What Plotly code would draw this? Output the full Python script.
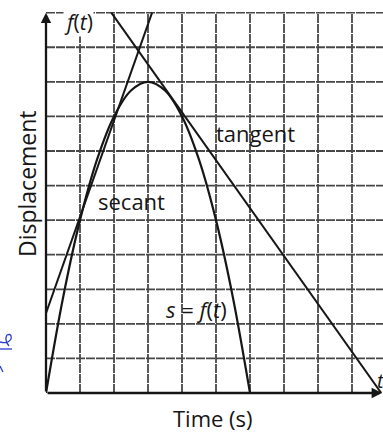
import plotly.graph_objects as go

# Displacement curve s = f(t), sampled along the parabola
t_curve = [0, 0.5, 1, 1.5, 2, 2.5, 3, 3.5, 4, 4.5, 5, 5.5, 6]
s_curve = [0, 2.75, 5, 6.75, 8, 8.75, 9, 8.75, 8, 6.75, 5, 2.75, 0]

# Secant line (end points)
t_secant = [0, 3.12]
s_secant = [2.31, 11]

# Tangent line (end points)
t_tangent = [1.92, 9.86]
s_tangent = [11, 0]

# Grid positions (one square per unit)
x_grid = [1, 2, 3, 4, 5, 6, 7, 8, 9]
y_grid = [1, 2, 3, 4, 5, 6, 7, 8, 9, 10, 11]

W, H = 383, 432
ML, MR, MT, MB = 46, 0, 12, 39
X_MAX = (W - ML - MR) / 34.0
Y_MAX = 11.0


def px(x):
    return (x - ML) / (W - ML - MR)


def py(y):
    return (H - MB - y) / (H - MB - MT)


INK = "#161616"
FONT = "Open Sans"

fig = go.Figure()
line_style = dict(color=INK, width=2)
fig.add_trace(go.Scatter(x=t_curve, y=s_curve, mode="lines",
                         line=dict(color=INK, width=2.2, shape="spline", smoothing=1.0),
                         hoverinfo="skip"))
fig.add_trace(go.Scatter(x=t_secant, y=s_secant, mode="lines", line=line_style,
                         hoverinfo="skip"))
fig.add_trace(go.Scatter(x=t_tangent, y=s_tangent, mode="lines", line=line_style,
                         hoverinfo="skip"))

grid_kw = dict(color="#474747", width=1.8, dash="9px,1px")
shapes = []
for gx in x_grid:
    shapes.append(dict(type="line", xref="x", yref="y", x0=gx, x1=gx, y0=0, y1=Y_MAX,
                       line=grid_kw, layer="below"))
for gy in y_grid:
    shapes.append(dict(type="line", xref="x", yref="y", x0=0, x1=X_MAX, y0=gy, y1=gy,
                       line=grid_kw, layer="below"))

# handwritten blue pen marks in the left margin
pen = dict(color="#2b3fd0", width=1.3)
shapes.append(dict(type="path", xref="paper", yref="paper",
                   path=(f"M {px(0)} {py(342)} Q {px(8)} {py(344)} {px(11)} {py(339)} "
                         f"Q {px(12)} {py(333)} {px(7)} {py(335)} "
                         f"Q {px(4)} {py(340)} {px(9)} {py(346)}"),
                   line=pen))
shapes.append(dict(type="line", xref="paper", yref="paper",
                   x0=px(0), x1=px(12), y0=py(349), y1=py(349), line=pen))
shapes.append(dict(type="line", xref="paper", yref="paper",
                   x0=px(0), x1=px(3), y0=py(366), y1=py(372), line=pen))


def label(x, y, text, size, **kw):
    d = dict(x=px(x), y=py(y), xref="paper", yref="paper", text=text,
             xanchor="center", yanchor="middle", showarrow=False,
             font=dict(family=FONT, size=size, color=INK))
    d.update(kw)
    return d


annotations = [
    # axes with arrow heads
    dict(x=X_MAX - 0.03, y=0, ax=0, ay=0, xref="x", yref="y", axref="x", ayref="y",
         text="", showarrow=True, arrowhead=2, arrowsize=0.9, arrowwidth=2.3,
         arrowcolor=INK),
    dict(x=0, y=Y_MAX, ax=0, ay=0, xref="x", yref="y", axref="x", ayref="y",
         text="", showarrow=True, arrowhead=2, arrowsize=0.9, arrowwidth=2.3,
         arrowcolor=INK),
    label(78, 22, "<i>f</i>(<i>t</i>)", 21, bgcolor="white", borderpad=0),
    label(375, 380, "<i>t</i>", 20, xanchor="left"),
    label(131, 201, "secant", 22),
    label(255, 133, "tangent", 22),
    label(196, 309, "<i>s</i> = <i>f</i>(<i>t</i>)", 22),
    label(213, 418, "Time (s)", 22),
    label(27, 184, "Displacement", 23, textangle=-90),
]

fig.update_layout(
    width=W, height=H,
    margin=dict(l=ML, r=MR, t=MT, b=MB),
    paper_bgcolor="white", plot_bgcolor="white",
    showlegend=False,
    shapes=shapes,
    annotations=annotations,
    xaxis=dict(range=[0, X_MAX], showgrid=False, zeroline=False, showticklabels=False,
               ticks="", showline=False, fixedrange=True),
    yaxis=dict(range=[0, Y_MAX + 0.02], showgrid=False, zeroline=False,
               showticklabels=False, ticks="", showline=False, fixedrange=True),
)

fig.write_html("out.html", config={"displayModeBar": False})
